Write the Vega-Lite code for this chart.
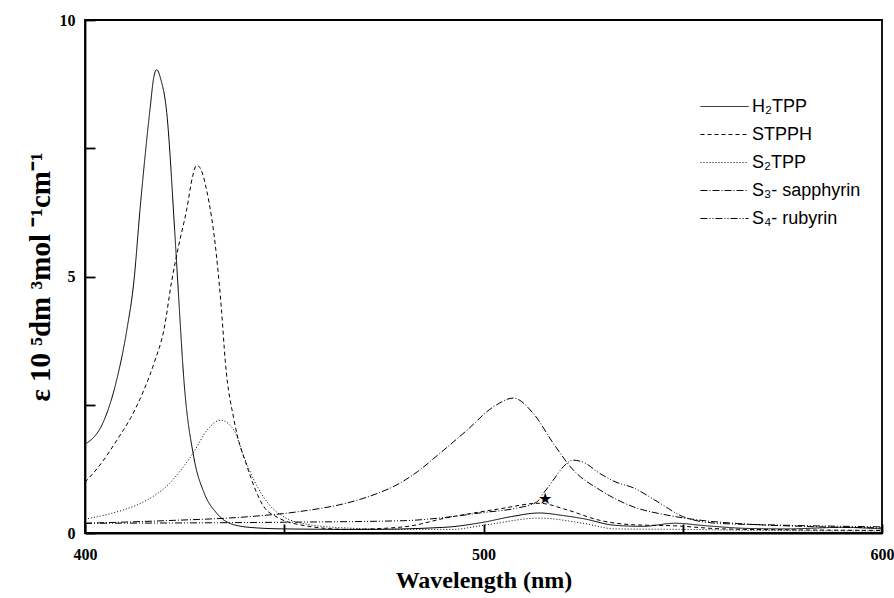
{
  "$schema": "https://vega.github.io/schema/vega-lite/v6.json",
  "autosize": "none",
  "width": 797,
  "height": 513,
  "padding": {"left": 85, "top": 20, "right": 12, "bottom": 65},
  "background": "white",
  "config": {
    "view": {"stroke": "black", "strokeWidth": 1.8},
    "axis": {"grid": false, "domainColor": "black", "domainWidth": 1.8, "tickColor": "black", "tickWidth": 1.8, "labelColor": "black", "titleColor": "black"}
  },
  "datasets": {
    "spectra": [
      {"series": "H₂TPP", "wl": 400, "eps": 1.73},
      {"series": "H₂TPP", "wl": 404.8, "eps": 2.2},
      {"series": "H₂TPP", "wl": 408, "eps": 3.0},
      {"series": "H₂TPP", "wl": 410.5, "eps": 3.96},
      {"series": "H₂TPP", "wl": 412.3, "eps": 4.93},
      {"series": "H₂TPP", "wl": 413.8, "eps": 6.3},
      {"series": "H₂TPP", "wl": 416.3, "eps": 8.25},
      {"series": "H₂TPP", "wl": 417.3, "eps": 8.9},
      {"series": "H₂TPP", "wl": 418, "eps": 9.03},
      {"series": "H₂TPP", "wl": 419, "eps": 8.85},
      {"series": "H₂TPP", "wl": 420.5, "eps": 8.2},
      {"series": "H₂TPP", "wl": 422.5, "eps": 5.9},
      {"series": "H₂TPP", "wl": 423.5, "eps": 4.6},
      {"series": "H₂TPP", "wl": 424.8, "eps": 3.0},
      {"series": "H₂TPP", "wl": 427.3, "eps": 1.48},
      {"series": "H₂TPP", "wl": 429.9, "eps": 0.78},
      {"series": "H₂TPP", "wl": 433, "eps": 0.39},
      {"series": "H₂TPP", "wl": 437.4, "eps": 0.16},
      {"series": "H₂TPP", "wl": 443, "eps": 0.1},
      {"series": "H₂TPP", "wl": 450, "eps": 0.08},
      {"series": "H₂TPP", "wl": 470, "eps": 0.07},
      {"series": "H₂TPP", "wl": 490, "eps": 0.11},
      {"series": "H₂TPP", "wl": 500, "eps": 0.21},
      {"series": "H₂TPP", "wl": 507, "eps": 0.32},
      {"series": "H₂TPP", "wl": 514, "eps": 0.39},
      {"series": "H₂TPP", "wl": 520, "eps": 0.34},
      {"series": "H₂TPP", "wl": 525, "eps": 0.28},
      {"series": "H₂TPP", "wl": 533, "eps": 0.15},
      {"series": "H₂TPP", "wl": 540, "eps": 0.13},
      {"series": "H₂TPP", "wl": 548, "eps": 0.19},
      {"series": "H₂TPP", "wl": 556, "eps": 0.14},
      {"series": "H₂TPP", "wl": 566, "eps": 0.09},
      {"series": "H₂TPP", "wl": 576, "eps": 0.08},
      {"series": "H₂TPP", "wl": 590, "eps": 0.11},
      {"series": "H₂TPP", "wl": 600, "eps": 0.08},

      {"series": "STPPH", "wl": 400, "eps": 0.99},
      {"series": "STPPH", "wl": 404, "eps": 1.35},
      {"series": "STPPH", "wl": 408, "eps": 1.81},
      {"series": "STPPH", "wl": 411.5, "eps": 2.25},
      {"series": "STPPH", "wl": 414.8, "eps": 2.79},
      {"series": "STPPH", "wl": 417.5, "eps": 3.35},
      {"series": "STPPH", "wl": 419.8, "eps": 3.96},
      {"series": "STPPH", "wl": 421.8, "eps": 4.93},
      {"series": "STPPH", "wl": 423.5, "eps": 5.6},
      {"series": "STPPH", "wl": 425.5, "eps": 6.3},
      {"series": "STPPH", "wl": 427, "eps": 6.95},
      {"series": "STPPH", "wl": 428, "eps": 7.17},
      {"series": "STPPH", "wl": 429, "eps": 7.1},
      {"series": "STPPH", "wl": 430.5, "eps": 6.69},
      {"series": "STPPH", "wl": 433, "eps": 5.4},
      {"series": "STPPH", "wl": 434.3, "eps": 4.3},
      {"series": "STPPH", "wl": 435.2, "eps": 3.35},
      {"series": "STPPH", "wl": 437.4, "eps": 2.2},
      {"series": "STPPH", "wl": 440.7, "eps": 1.29},
      {"series": "STPPH", "wl": 444.9, "eps": 0.51},
      {"series": "STPPH", "wl": 448.2, "eps": 0.31},
      {"series": "STPPH", "wl": 454, "eps": 0.16},
      {"series": "STPPH", "wl": 466, "eps": 0.07},
      {"series": "STPPH", "wl": 480, "eps": 0.12},
      {"series": "STPPH", "wl": 491, "eps": 0.3},
      {"series": "STPPH", "wl": 504, "eps": 0.47},
      {"series": "STPPH", "wl": 514, "eps": 0.58},
      {"series": "STPPH", "wl": 521, "eps": 0.45},
      {"series": "STPPH", "wl": 529, "eps": 0.25},
      {"series": "STPPH", "wl": 537.6, "eps": 0.16},
      {"series": "STPPH", "wl": 548, "eps": 0.14},
      {"series": "STPPH", "wl": 560, "eps": 0.08},
      {"series": "STPPH", "wl": 580, "eps": 0.06},
      {"series": "STPPH", "wl": 600, "eps": 0.05},

      {"series": "S₂TPP", "wl": 400, "eps": 0.27},
      {"series": "S₂TPP", "wl": 405, "eps": 0.35},
      {"series": "S₂TPP", "wl": 410, "eps": 0.46},
      {"series": "S₂TPP", "wl": 414, "eps": 0.58},
      {"series": "S₂TPP", "wl": 418, "eps": 0.76},
      {"series": "S₂TPP", "wl": 421, "eps": 0.95},
      {"series": "S₂TPP", "wl": 424, "eps": 1.22},
      {"series": "S₂TPP", "wl": 427.3, "eps": 1.58},
      {"series": "S₂TPP", "wl": 430.6, "eps": 2.0},
      {"series": "S₂TPP", "wl": 434, "eps": 2.2},
      {"series": "S₂TPP", "wl": 437.4, "eps": 2.0},
      {"series": "S₂TPP", "wl": 439.9, "eps": 1.48},
      {"series": "S₂TPP", "wl": 442.4, "eps": 1.03},
      {"series": "S₂TPP", "wl": 446.7, "eps": 0.51},
      {"series": "S₂TPP", "wl": 450, "eps": 0.31},
      {"series": "S₂TPP", "wl": 455, "eps": 0.18},
      {"series": "S₂TPP", "wl": 465, "eps": 0.1},
      {"series": "S₂TPP", "wl": 480, "eps": 0.07},
      {"series": "S₂TPP", "wl": 492, "eps": 0.07},
      {"series": "S₂TPP", "wl": 500, "eps": 0.15},
      {"series": "S₂TPP", "wl": 514, "eps": 0.29},
      {"series": "S₂TPP", "wl": 525, "eps": 0.19},
      {"series": "S₂TPP", "wl": 533, "eps": 0.08},
      {"series": "S₂TPP", "wl": 550, "eps": 0.07},
      {"series": "S₂TPP", "wl": 570, "eps": 0.05},
      {"series": "S₂TPP", "wl": 600, "eps": 0.04},

      {"series": "S₃- sapphyrin", "wl": 400, "eps": 0.19},
      {"series": "S₃- sapphyrin", "wl": 420, "eps": 0.24},
      {"series": "S₃- sapphyrin", "wl": 441.4, "eps": 0.32},
      {"series": "S₃- sapphyrin", "wl": 454, "eps": 0.42},
      {"series": "S₃- sapphyrin", "wl": 466.5, "eps": 0.6},
      {"series": "S₃- sapphyrin", "wl": 473, "eps": 0.76},
      {"series": "S₃- sapphyrin", "wl": 479, "eps": 0.97},
      {"series": "S₃- sapphyrin", "wl": 483.5, "eps": 1.2},
      {"series": "S₃- sapphyrin", "wl": 489, "eps": 1.55},
      {"series": "S₃- sapphyrin", "wl": 495.8, "eps": 2.0},
      {"series": "S₃- sapphyrin", "wl": 502.5, "eps": 2.46},
      {"series": "S₃- sapphyrin", "wl": 507.5, "eps": 2.63},
      {"series": "S₃- sapphyrin", "wl": 512.5, "eps": 2.33},
      {"series": "S₃- sapphyrin", "wl": 517.5, "eps": 1.75},
      {"series": "S₃- sapphyrin", "wl": 522.5, "eps": 1.23},
      {"series": "S₃- sapphyrin", "wl": 529.2, "eps": 0.84},
      {"series": "S₃- sapphyrin", "wl": 537.6, "eps": 0.51},
      {"series": "S₃- sapphyrin", "wl": 546, "eps": 0.35},
      {"series": "S₃- sapphyrin", "wl": 554.3, "eps": 0.25},
      {"series": "S₃- sapphyrin", "wl": 562.7, "eps": 0.19},
      {"series": "S₃- sapphyrin", "wl": 580, "eps": 0.13},
      {"series": "S₃- sapphyrin", "wl": 600, "eps": 0.1},

      {"series": "S₄- rubyrin", "wl": 400, "eps": 0.19},
      {"series": "S₄- rubyrin", "wl": 450, "eps": 0.21},
      {"series": "S₄- rubyrin", "wl": 480, "eps": 0.24},
      {"series": "S₄- rubyrin", "wl": 490, "eps": 0.3},
      {"series": "S₄- rubyrin", "wl": 500, "eps": 0.4},
      {"series": "S₄- rubyrin", "wl": 508, "eps": 0.48},
      {"series": "S₄- rubyrin", "wl": 513.3, "eps": 0.6},
      {"series": "S₄- rubyrin", "wl": 515, "eps": 0.77},
      {"series": "S₄- rubyrin", "wl": 517.5, "eps": 1.03},
      {"series": "S₄- rubyrin", "wl": 520, "eps": 1.29},
      {"series": "S₄- rubyrin", "wl": 522.5, "eps": 1.42},
      {"series": "S₄- rubyrin", "wl": 525, "eps": 1.38},
      {"series": "S₄- rubyrin", "wl": 529.2, "eps": 1.16},
      {"series": "S₄- rubyrin", "wl": 533, "eps": 1.0},
      {"series": "S₄- rubyrin", "wl": 537.6, "eps": 0.88},
      {"series": "S₄- rubyrin", "wl": 544.3, "eps": 0.58},
      {"series": "S₄- rubyrin", "wl": 550, "eps": 0.32},
      {"series": "S₄- rubyrin", "wl": 558.5, "eps": 0.19},
      {"series": "S₄- rubyrin", "wl": 571, "eps": 0.16},
      {"series": "S₄- rubyrin", "wl": 600, "eps": 0.12}
    ],
    "marks": [
      {"wl": 515.4, "eps": 0.66, "label": "★"}
    ]
  },
  "layer": [
    {
      "data": {"name": "spectra"},
      "mark": {"type": "line", "interpolate": "monotone", "strokeWidth": 1, "color": "black"},
      "encoding": {
        "x": {
          "field": "wl", "type": "quantitative",
          "scale": {"domain": [400, 600], "nice": false, "zero": false},
          "axis": {
            "values": [400, 450, 500, 550, 600],
            "labelExpr": "datum.value % 100 == 0 ? datum.label : ''",
            "tickSize": -9, "labelPadding": 22, "labelFlush": false,
            "labelFont": "Liberation Serif", "labelFontWeight": "bold", "labelFontSize": 16,
            "title": "Wavelength (nm)", "titleFont": "Liberation Serif", "titleFontWeight": "bold", "titleFontSize": 24,
            "titlePadding": 6
          }
        },
        "y": {
          "field": "eps", "type": "quantitative",
          "scale": {"domain": [0, 10], "nice": false},
          "axis": {
            "values": [0, 2.5, 5, 7.5, 10],
            "labelExpr": "datum.value % 5 == 0 ? datum.label : ''",
            "tickSize": -10, "labelPadding": 20, "labelFlush": false,
            "labelFont": "Liberation Serif", "labelFontWeight": "bold", "labelFontSize": 16,
            "title": "ε 10  ⁵dm  ³mol  ⁻¹cm⁻¹", "titleFont": "Liberation Serif", "titleFontWeight": "bold", "titleFontSize": 29,
            "titlePadding": 4
          }
        },
        "strokeDash": {
          "field": "series", "type": "nominal",
          "scale": {
            "domain": ["H₂TPP", "STPPH", "S₂TPP", "S₃- sapphyrin", "S₄- rubyrin"],
            "range": [[1, 0], [4, 3], [1, 2], [7, 2, 1, 2], [7, 2, 1, 2, 1, 2]]
          },
          "legend": {
            "title": null, "orient": "none", "legendX": 627, "legendY": 74,
            "symbolType": "M-2,0H2", "symbolSize": 576, "symbolStrokeWidth": 1, "symbolStrokeColor": "black", "symbolFillColor": "transparent",
            "rowPadding": 6,
            "labelFont": "Liberation Sans", "labelFontSize": 18, "labelColor": "black", "labelOffset": 15,
            "labelLimit": 300
          }
        }
      }
    },
    {
      "data": {"name": "marks"},
      "mark": {"type": "text", "fontSize": 16, "color": "black"},
      "encoding": {
        "x": {"field": "wl", "type": "quantitative"},
        "y": {"field": "eps", "type": "quantitative"},
        "text": {"field": "label"}
      }
    }
  ]
}
